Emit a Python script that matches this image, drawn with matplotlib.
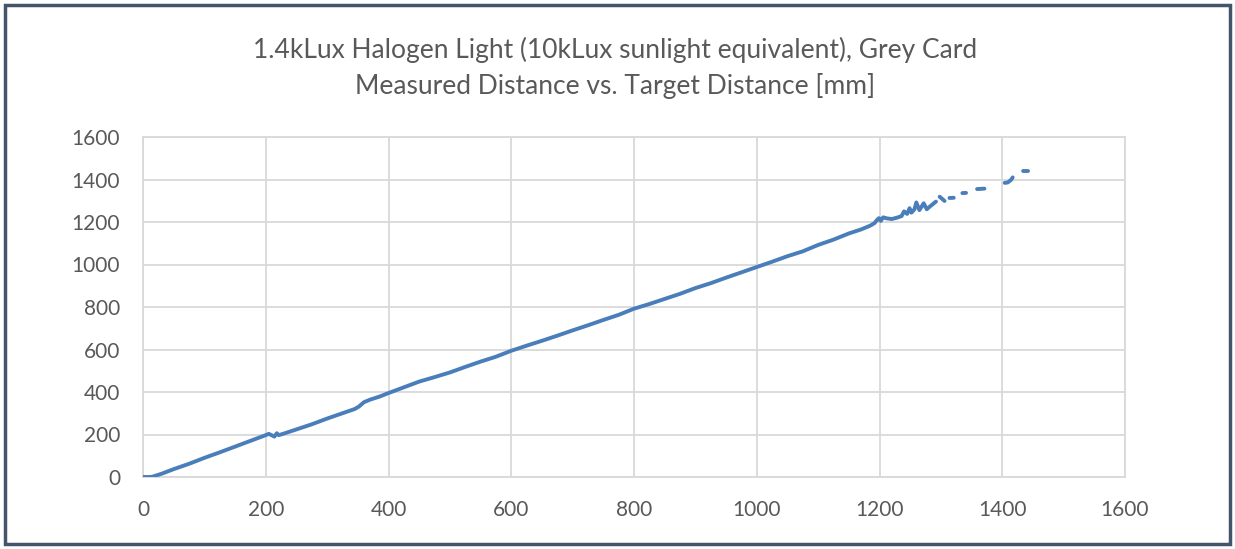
import numpy as np
import matplotlib.pyplot as plt
from matplotlib.patches import Rectangle

nan = np.nan

# target distance [mm] and measured distance [mm]; nan = no reading (gap in line)
target = [0, 10, 15, 30, 50, 75, 100, 125, 150, 175, 200, 205, 210, 214, 218, 221, 226,
          250, 275, 300, 325, 345, 352, 360, 370, 385, 400, 425, 450, 475, 500,
          525, 550, 575, 600, 625, 650, 675, 700, 725, 750, 775, 800, 825, 850,
          875, 900, 925, 950, 975, 1000, 1025, 1050, 1075, 1100, 1125, 1150, 1170,
          1185, 1192, 1196, 1199, 1202, 1206, 1212, 1220, 1228, 1236, 1240, 1245,
          1249, 1252, 1257, 1260, 1265, 1272, 1277, 1283, 1292, nan,
          1298, 1306, nan, 1314, 1321, nan, 1335, 1341, nan, 1359, 1371, nan,
          1404, 1409, 1415, 1417, nan, 1434, 1442]
measured = [0, 0, 1, 15, 37, 62, 90, 116, 143, 170, 197, 203, 196, 190, 206, 197, 201,
            224, 248, 275, 300, 320, 332, 352, 364, 378, 395, 422, 449, 470, 492,
            518, 543, 566, 594, 618, 641, 665, 690, 714, 739, 763, 792, 814, 838,
            862, 889, 912, 938, 963, 988, 1013, 1039, 1062, 1092, 1117, 1146, 1165,
            1183, 1195, 1210, 1218, 1205, 1222, 1217, 1214, 1220, 1228, 1250, 1238,
            1265, 1244, 1260, 1292, 1256, 1288, 1260, 1275, 1296, nan,
            1319, 1299, nan, 1313, 1314, nan, 1336, 1337, nan, 1355, 1357, nan,
            1384, 1386, 1400, 1410, nan, 1440, 1440]

ticks = [0, 200, 400, 600, 800, 1000, 1200, 1400, 1600]

plt.rcParams['font.family'] = ['Lato', 'DejaVu Sans']

fig = plt.figure(figsize=(12.35, 5.49), dpi=100)
ax = fig.add_axes([143/1235, 1 - 477/549, (1125 - 143)/1235, (477 - 137)/549])

ax.plot(target, measured, color='#4a7ebb', linewidth=2.8, solid_capstyle='round',
        solid_joinstyle='round', zorder=3)

ax.set_xlim(0, 1600)
ax.set_ylim(0, 1600)
ax.set_xticks(ticks)
ax.set_yticks(ticks)
ax.grid(True, color='#d9d9d9', linewidth=1.3)
ax.set_axisbelow(True)
for s in ax.spines.values():
    s.set_color('#d9d9d9')
    s.set_linewidth(1.3)
ax.tick_params(length=0, labelsize=15, labelcolor='#595959', pad=16.5)

fig.text(0.498, 1 - 50/549, '1.4kLux Halogen Light (10kLux sunlight equivalent), Grey Card',
         ha='center', va='center', fontsize=19, color='#595959')
fig.text(0.498, 1 - 86/549, 'Measured Distance vs. Target Distance [mm]',
         ha='center', va='center', fontsize=19, color='#595959')

fig.patches.append(Rectangle((5/1235, 5/549), 1 - 10/1235, 1 - 10/549,
                             transform=fig.transFigure, fill=False,
                             edgecolor='#44546a', linewidth=2.5))

fig.savefig('out.png', dpi=100)
